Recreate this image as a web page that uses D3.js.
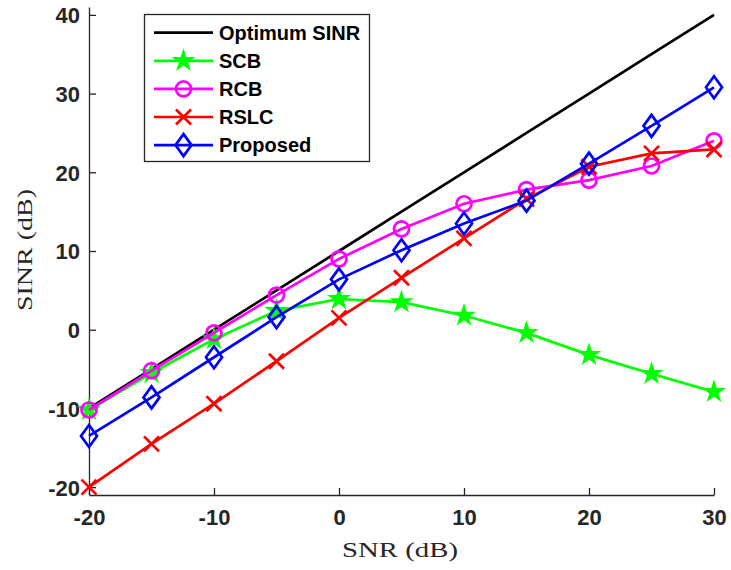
<!DOCTYPE html>
<html>
<head>
<meta charset="utf-8">
<script src="https://cdn.jsdelivr.net/npm/d3@7"></script>
<style>
  html, body { margin: 0; padding: 0; background: #fff; }
  svg { display: block; }
</style>
</head>
<body>
<svg id="chart" width="731" height="570"></svg>
<script>
// SNR grid (dB)
const snr = [-20, -15, -10, -5, 0, 5, 10, 15, 20, 25, 30];

// Output SINR (dB) per beamformer
const optimum  = [-10, -5, 0, 5, 10, 15, 20, 25, 30, 35, 40];
const scb      = [-10.2, -5.5, -1.2, 2.4, 3.9, 3.5, 1.8, -0.4, -3.2, -5.6, -7.9];
const rcb      = [-10.2, -5.2, -0.4, 4.4, 9.0, 12.8, 16.0, 17.8, 19.0, 20.8, 24.0];
const rslc     = [-20.0, -14.5, -9.4, -4.0, 1.5, 6.6, 11.6, 16.6, 20.7, 22.4, 22.9];
const proposed = [-13.5, -8.6, -3.5, 1.6, 6.4, 10.1, 13.5, 16.4, 21.1, 25.9, 30.8];

const xTicks = [-20, -10, 0, 10, 20, 30];
const yTicks = [-20, -10, 0, 10, 20, 30, 40];

const seriesNames = ["Optimum SINR", "SCB", "RCB", "RSLC", "Proposed"];
const seriesValues = [optimum, scb, rcb, rslc, proposed];
const seriesColors = ["#000000", "#00ff00", "#ff00ff", "#ff0000", "#0000ff"];
const seriesMarkers = ["none", "star", "circle", "cross", "diamond"];

const svg = d3.select("#chart");
const plotL = 89, plotR = 714, plotT = 7, plotB = 495;

const x = d3.scaleLinear().domain([-20, 30]).range([plotL, plotR]);
const y = d3.scaleLinear().domain([-21, 41]).range([plotB, plotT]);

const axisColor = "#262626";
const plain = d => String(d);

// Axes (ticks pointing inward, no box)
const xAxis = svg.append("g")
  .attr("transform", `translate(0,${plotB})`)
  .call(d3.axisBottom(x).tickValues(xTicks).tickFormat(plain).tickSizeInner(-7).tickSizeOuter(0).tickPadding(14));
const yAxis = svg.append("g")
  .attr("transform", `translate(${plotL},0)`)
  .call(d3.axisLeft(y).tickValues(yTicks).tickFormat(plain).tickSizeInner(-7).tickSizeOuter(0).tickPadding(9));

[xAxis, yAxis].forEach(g => {
  g.select(".domain").attr("stroke", axisColor).attr("stroke-width", 1.3);
  g.selectAll(".tick line").attr("stroke", axisColor).attr("stroke-width", 1.3);
  g.selectAll(".tick text")
    .attr("fill", axisColor)
    .style("font-family", "'Liberation Sans', Arial, sans-serif")
    .style("font-weight", "bold")
    .style("font-size", "22px");
});
xAxis.selectAll(".tick text").attr("dy", "0.71em");
yAxis.selectAll(".tick text").attr("dy", "0.36em");

// Axis titles
svg.append("text")
  .attr("x", 400).attr("y", 557)
  .attr("text-anchor", "middle")
  .attr("fill", axisColor)
  .attr("textLength", 116).attr("lengthAdjust", "spacingAndGlyphs")
  .style("font-family", "'Liberation Serif', 'Times New Roman', serif")
  .style("font-size", "22px")
  .text("SNR (dB)");

svg.append("text")
  .attr("transform", `translate(32,250) rotate(-90)`)
  .attr("text-anchor", "middle")
  .attr("fill", axisColor)
  .attr("textLength", 122).attr("lengthAdjust", "spacingAndGlyphs")
  .style("font-family", "'Liberation Serif', 'Times New Roman', serif")
  .style("font-size", "22px")
  .text("SINR (dB)");

// Marker shapes
function starPath(r) {
  const pts = [];
  const ri = r * 0.382;
  for (let i = 0; i < 10; i++) {
    const a = -Math.PI / 2 + i * Math.PI / 5;
    const rr = i % 2 === 0 ? r : ri;
    pts.push([rr * Math.cos(a), rr * Math.sin(a)]);
  }
  return "M" + pts.map(p => p.join(",")).join("L") + "Z";
}
const lw = 2.7;
function drawMarker(g, kind, color, cx, cy) {
  if (kind === "star") {
    g.append("path").attr("d", starPath(10)).attr("transform", `translate(${cx},${cy})`)
      .attr("fill", color).attr("stroke", color).attr("stroke-width", 1.6).attr("stroke-linejoin", "miter");
  } else if (kind === "circle") {
    g.append("circle").attr("cx", cx).attr("cy", cy).attr("r", 7.5)
      .attr("fill", "none").attr("stroke", color).attr("stroke-width", lw);
  } else if (kind === "cross") {
    const s = 7.5;
    g.append("path").attr("d", `M${cx - s},${cy - s}L${cx + s},${cy + s}M${cx - s},${cy + s}L${cx + s},${cy - s}`)
      .attr("stroke", color).attr("stroke-width", lw).attr("fill", "none");
  } else if (kind === "diamond") {
    const w = 8, h = 11;
    g.append("path").attr("d", `M${cx},${cy - h}L${cx + w},${cy}L${cx},${cy + h}L${cx - w},${cy}Z`)
      .attr("stroke", color).attr("stroke-width", lw).attr("fill", "none");
  }
}

// Series lines and markers
const line = d3.line().x((d, i) => x(snr[i])).y(d => y(d));
seriesValues.forEach((vals, k) => {
  const g = svg.append("g");
  g.append("path").datum(vals).attr("d", line)
    .attr("fill", "none").attr("stroke", seriesColors[k]).attr("stroke-width", lw);
  if (seriesMarkers[k] !== "none") {
    vals.forEach((v, i) => drawMarker(g, seriesMarkers[k], seriesColors[k], x(snr[i]), y(v)));
  }
});

// Legend
const leg = svg.append("g");
leg.append("rect").attr("x", 144.5).attr("y", 14.5).attr("width", 225).attr("height", 147)
  .attr("fill", "#fff").attr("stroke", axisColor).attr("stroke-width", 1.3);
seriesNames.forEach((name, k) => {
  const cy = 32.7 + k * 28.1;
  leg.append("line").attr("x1", 154).attr("x2", 213).attr("y1", cy).attr("y2", cy)
    .attr("stroke", seriesColors[k]).attr("stroke-width", lw);
  if (seriesMarkers[k] !== "none") drawMarker(leg, seriesMarkers[k], seriesColors[k], 183.5, cy);
  leg.append("text").attr("x", 219).attr("y", cy + 7)
    .attr("fill", "#000")
    .style("font-family", "'Liberation Sans', Arial, sans-serif")
    .style("font-weight", "bold")
    .style("font-size", "20px")
    .text(name);
});
</script>
</body>
</html>
